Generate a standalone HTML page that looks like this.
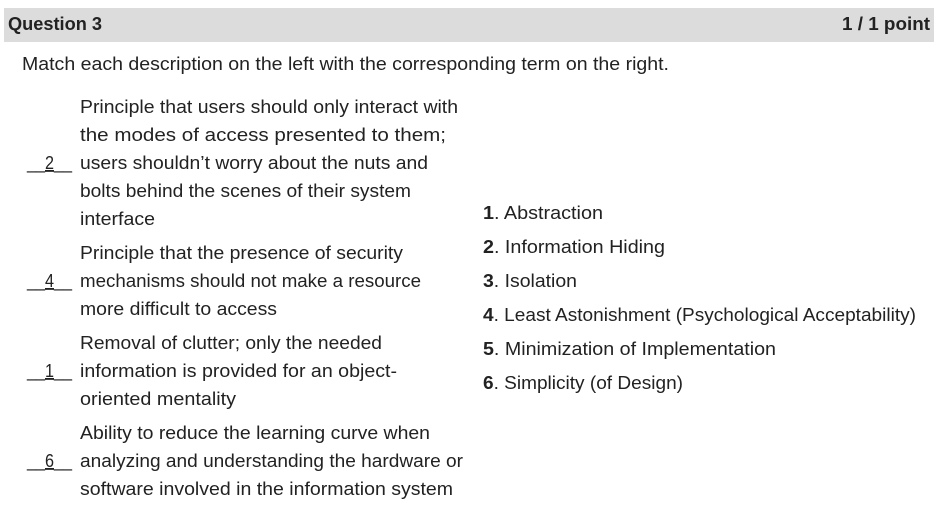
<!DOCTYPE html>
<html><head><meta charset="utf-8"><style>
html,body{margin:0;padding:0;background:#fff;width:942px;height:532px;overflow:hidden}
svg text{font-family:"Liberation Sans",sans-serif;fill:#222;font-size:18.5px}
</style></head><body>
<svg width="942" height="532" viewBox="0 0 942 532">
<rect x="4" y="8" width="930" height="34" fill="#dcdcdc"/>
<text x="8" y="30" font-weight="bold" font-size="18.5" fill="#000" textLength="94" lengthAdjust="spacingAndGlyphs">Question 3</text>
<text x="842" y="30" font-weight="bold" font-size="18.5" fill="#000" textLength="88" lengthAdjust="spacingAndGlyphs">1 / 1 point</text>
<text x="22" y="70" textLength="647" lengthAdjust="spacingAndGlyphs">Match each description on the left with the corresponding term on the right.</text>

<g>
<text x="80" y="113" textLength="378" lengthAdjust="spacingAndGlyphs">Principle that users should only interact with</text>
<text x="80" y="141" textLength="366" lengthAdjust="spacingAndGlyphs">the modes of access presented to them;</text>
<text x="80" y="169" textLength="348" lengthAdjust="spacingAndGlyphs">users shouldn’t worry about the nuts and</text>
<text x="80" y="197" textLength="331" lengthAdjust="spacingAndGlyphs">bolts behind the scenes of their system</text>
<text x="80" y="225" textLength="75" lengthAdjust="spacingAndGlyphs">interface</text>
<text x="80" y="259" textLength="323" lengthAdjust="spacingAndGlyphs">Principle that the presence of security</text>
<text x="80" y="287" textLength="341" lengthAdjust="spacingAndGlyphs">mechanisms should not make a resource</text>
<text x="80" y="315" textLength="197" lengthAdjust="spacingAndGlyphs">more difficult to access</text>
<text x="80" y="349" textLength="302" lengthAdjust="spacingAndGlyphs">Removal of clutter; only the needed</text>
<text x="80" y="377" textLength="317" lengthAdjust="spacingAndGlyphs">information is provided for an object-</text>
<text x="80" y="405" textLength="156" lengthAdjust="spacingAndGlyphs">oriented mentality</text>
<text x="80" y="439" textLength="350" lengthAdjust="spacingAndGlyphs">Ability to reduce the learning curve when</text>
<text x="80" y="467" textLength="383" lengthAdjust="spacingAndGlyphs">analyzing and understanding the hardware or</text>
<text x="80" y="495" textLength="373" lengthAdjust="spacingAndGlyphs">software involved in the information system</text>
</g>

<g>
<text x="27" y="169" textLength="45" lengthAdjust="spacingAndGlyphs">__<tspan text-decoration="underline">2</tspan>__</text>
<text x="27" y="287" textLength="45" lengthAdjust="spacingAndGlyphs">__<tspan text-decoration="underline">4</tspan>__</text>
<text x="27" y="377" textLength="45" lengthAdjust="spacingAndGlyphs">__<tspan text-decoration="underline">1</tspan>__</text>
<text x="27" y="467" textLength="45" lengthAdjust="spacingAndGlyphs">__<tspan text-decoration="underline">6</tspan>__</text>
</g>

<g>
<text x="483" y="219" textLength="120" lengthAdjust="spacingAndGlyphs"><tspan font-weight="bold">1</tspan>. Abstraction</text>
<text x="483" y="253" textLength="182" lengthAdjust="spacingAndGlyphs"><tspan font-weight="bold">2</tspan>. Information Hiding</text>
<text x="483" y="287" textLength="94" lengthAdjust="spacingAndGlyphs"><tspan font-weight="bold">3</tspan>. Isolation</text>
<text x="483" y="321" textLength="433" lengthAdjust="spacingAndGlyphs"><tspan font-weight="bold">4</tspan>. Least Astonishment (Psychological Acceptability)</text>
<text x="483" y="355" textLength="293" lengthAdjust="spacingAndGlyphs"><tspan font-weight="bold">5</tspan>. Minimization of Implementation</text>
<text x="483" y="389" textLength="200" lengthAdjust="spacingAndGlyphs"><tspan font-weight="bold">6</tspan>. Simplicity (of Design)</text>
</g>
</svg>
</body></html>
